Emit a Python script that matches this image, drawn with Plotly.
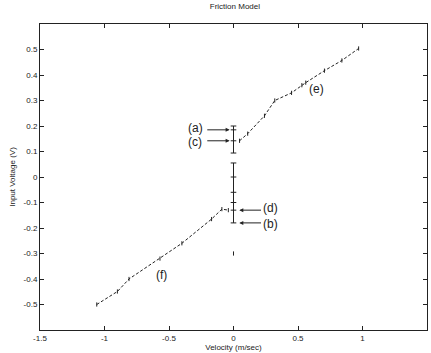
import plotly.graph_objects as go

# Sliding branch, positive velocity
pos_velocity = [0.047, 0.11, 0.24, 0.32, 0.45, 0.53, 0.56, 0.705, 0.84, 0.97]
pos_voltage = [0.142, 0.17, 0.24, 0.30, 0.33, 0.36, 0.37, 0.417, 0.457, 0.504]

# Sliding branch, negative velocity
neg_velocity = [-1.06, -0.90, -0.81, -0.57, -0.40, -0.17, -0.09, -0.04]
neg_voltage = [-0.50, -0.449, -0.40, -0.32, -0.26, -0.165, -0.126, -0.13]

# Stuck (zero-velocity) segments
stick_up_voltage = [0.20, 0.185, 0.142, 0.094]
stick_down_voltage = [0.055, 0.0, -0.06, -0.10, -0.13, -0.18]
stray_voltage = [-0.30]

x_ticks = [-1.5, -1, -0.5, 0, 0.5, 1, 1.5]
x_tick_text = ["-1.5", "-1", "-0.5", "0", "0.5", "1", "1.5"]
y_ticks = [-0.5, -0.4, -0.3, -0.2, -0.1, 0, 0.1, 0.2, 0.3, 0.4, 0.5]
y_tick_text = ["-0.5", "-0.4", "-0.3", "-0.2", "-0.1", "0", "0.1", "0.2", "0.3", "0.4", "0.5"]

# Labelled points: (label, arrow head x, arrow tail x, arrow y, text x, text y)
point_labels = [
    ("(a)", -0.03, -0.215, 0.185, -0.295, 0.192),
    ("(c)", -0.03, -0.215, 0.142, -0.295, 0.136),
    ("(d)", 0.045, 0.225, -0.13, 0.285, -0.123),
    ("(b)", 0.045, 0.225, -0.18, 0.285, -0.184),
]
branch_labels = [("(e)", 0.64, 0.345), ("(f)", -0.56, -0.385)]

ink = "#222222"
font_family = "Liberation Sans, Arial"
fig = go.Figure()

fig.add_trace(go.Scatter(
    x=pos_velocity, y=pos_voltage, mode="lines+markers",
    line=dict(color=ink, width=1, dash="3px,2px"),
    marker=dict(symbol="line-ns", size=3, line=dict(color=ink, width=1)),
))
fig.add_trace(go.Scatter(
    x=neg_velocity, y=neg_voltage, mode="lines+markers",
    line=dict(color=ink, width=1, dash="3px,2px"),
    marker=dict(symbol="line-ns", size=3, line=dict(color=ink, width=1)),
))
fig.add_trace(go.Scatter(
    x=[0] * len(stick_up_voltage), y=stick_up_voltage, mode="lines+markers",
    line=dict(color=ink, width=1),
    marker=dict(symbol="line-ew", size=4, line=dict(color=ink, width=1)),
))
fig.add_trace(go.Scatter(
    x=[0] * len(stick_down_voltage), y=stick_down_voltage, mode="lines+markers",
    line=dict(color=ink, width=1),
    marker=dict(symbol="line-ew", size=4, line=dict(color=ink, width=1)),
))
fig.add_trace(go.Scatter(
    x=[0] * len(stray_voltage), y=stray_voltage, mode="markers",
    marker=dict(symbol="line-ns", size=3, line=dict(color=ink, width=1)),
))

annotations = []
for label, head_x, tail_x, yv, text_x, text_y in point_labels:
    annotations.append(dict(
        x=head_x, y=yv, ax=tail_x, ay=yv, xref="x", yref="y", axref="x", ayref="y",
        text="", showarrow=True, arrowhead=2, arrowsize=0.8, arrowwidth=1, arrowcolor=ink,
    ))
    annotations.append(dict(
        x=text_x, y=text_y, xref="x", yref="y", text=label, showarrow=False,
        font=dict(family=font_family, size=12, color=ink),
    ))
for label, xv, yv in branch_labels:
    annotations.append(dict(
        x=xv, y=yv, xref="x", yref="y", text=label, showarrow=False,
        font=dict(family=font_family, size=12, color=ink),
    ))

axis_common = dict(
    showgrid=False, zeroline=False, showline=True, linecolor=ink, linewidth=1,
    mirror="ticks", ticks="inside", ticklen=4, tickcolor=ink,
    tickfont=dict(family=font_family, size=8, color=ink),
)

fig.update_layout(
    width=431, height=353,
    margin=dict(l=40, r=4, t=24, b=23),
    paper_bgcolor="white", plot_bgcolor="white",
    showlegend=False,
    title=dict(text="Friction Model", x=0.545, xanchor="center", y=0.99, yanchor="top",
               font=dict(family=font_family, size=8, color=ink)),
    xaxis=dict(range=[-1.5, 1.5], tickvals=x_ticks, ticktext=x_tick_text,
               title=dict(text="Velocity (m/sec)", standoff=0,
                          font=dict(family=font_family, size=8, color=ink)),
               **axis_common),
    yaxis=dict(range=[-0.6, 0.6], tickvals=y_ticks, ticktext=y_tick_text,
               title=dict(text="Input Voltage (V)", standoff=6,
                          font=dict(family=font_family, size=8, color=ink)),
               **axis_common),
    annotations=annotations,
)

fig.write_html("out.html")
